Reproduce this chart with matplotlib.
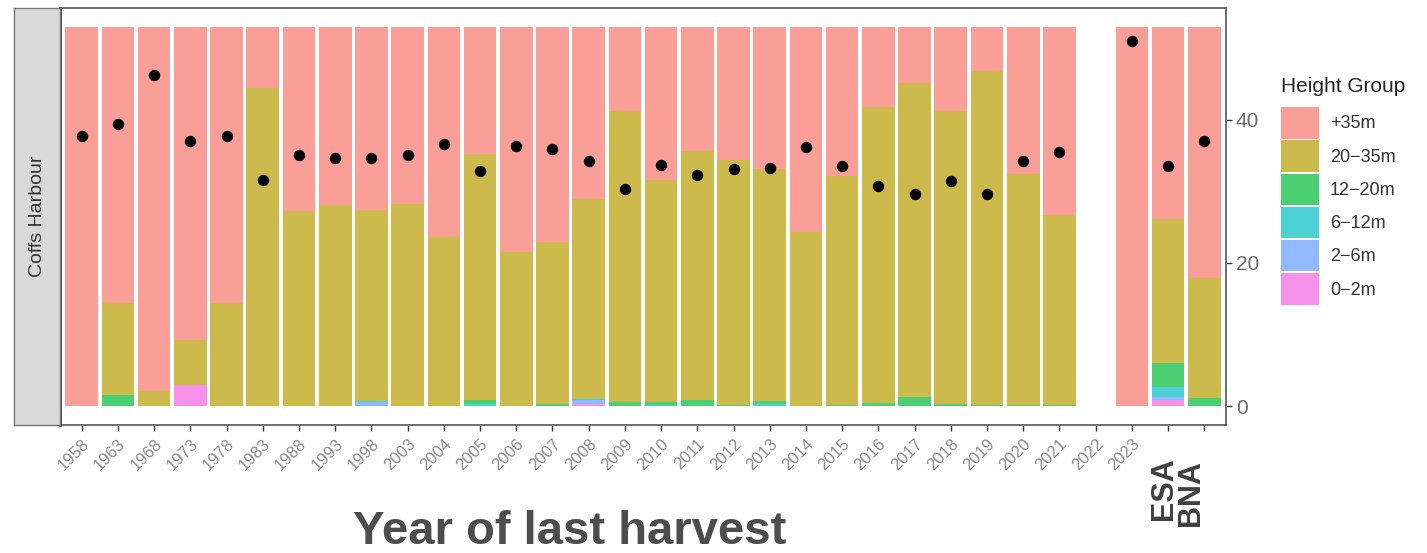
import numpy as np
import matplotlib
matplotlib.use("Agg")
import matplotlib.pyplot as plt
import matplotlib.patches as mpatches

plt.rcParams['font.family'] = ['Liberation Sans', 'DejaVu Sans']

# categories along the x axis
years = ["1958", "1963", "1968", "1973", "1978", "1983", "1988", "1993", "1998", "2003",
         "2004", "2005", "2006", "2007", "2008", "2009", "2010", "2011", "2012", "2013",
         "2014", "2015", "2016", "2017", "2018", "2019", "2020", "2021", "2022", "2023",
         "ESA", "BNA"]

# stacked segment heights per height group (bottom to top)
h_0_2 = [0, 0, 0, 2.9, 0, 0, 0, 0, 0, 0,
         0, 0, 0, 0, 0.3, 0, 0, 0, 0, 0,
         0, 0, 0, 0, 0, 0, 0, 0, 0, 0,
         0.9, 0]
h_2_6 = [0, 0, 0, 0, 0, 0, 0, 0, 0.5, 0,
         0, 0, 0, 0, 0.5, 0, 0, 0, 0, 0,
         0, 0, 0, 0, 0, 0, 0, 0, 0, 0,
         0.3, 0]
h_6_12 = [0, 0, 0, 0, 0, 0, 0, 0, 0.2, 0,
          0, 0.3, 0, 0, 0.2, 0, 0.2, 0, 0, 0.3,
          0, 0, 0, 0, 0, 0, 0, 0, 0, 0,
          1.5, 0]
h_12_20 = [0, 1.6, 0, 0, 0, 0, 0, 0, 0, 0,
           0, 0.6, 0, 0.3, 0, 0.5, 0.3, 0.8, 0.2, 0.4,
           0, 0.2, 0.4, 1.2, 0.3, 0.2, 0.2, 0.1, 0, 0,
           3.3, 1.1]
h_20_35 = [0, 12.8, 2.1, 6.4, 14.4, 44.4, 27.2, 28.1, 26.7, 28.3,
           23.7, 34.4, 21.6, 22.7, 27.9, 40.7, 31.1, 34.8, 34.2, 32.5,
           24.4, 31.9, 41.4, 43.9, 40.9, 46.6, 32.3, 26.6, 0, 0,
           20.2, 16.8]
h_35 = [53, 38.6, 50.9, 43.7, 38.6, 8.6, 25.8, 24.9, 25.6, 24.7,
        29.3, 17.7, 31.4, 30.0, 24.1, 11.8, 21.4, 17.4, 18.6, 19.8,
        28.6, 20.9, 11.2, 7.9, 11.8, 6.2, 20.5, 26.3, 0, 53,
        26.8, 35.1]

# mean height points
mean_height = [37.8, 39.4, 46.3, 37.0, 37.7, 31.6, 35.1, 34.7, 34.7, 35.1,
               36.6, 32.9, 36.4, 36.0, 34.3, 30.3, 33.7, 32.3, 33.2, 33.3,
               36.2, 33.6, 30.8, 29.6, 31.4, 29.7, 34.2, 35.5, np.nan, 51.0,
               33.5, 37.0]

groups = ["0\u22122m", "2\u22126m", "6\u221212m", "12\u221220m", "20\u221235m", "+35m"]
series = [h_0_2, h_2_6, h_6_12, h_12_20, h_20_35, h_35]
colors = ["#F564E3", "#619CFF", "#00BFC4", "#00BA38", "#B79F00", "#F8766D"]

W, H = 1427, 553
fig = plt.figure(figsize=(W / 100, H / 100), dpi=100)
ax = fig.add_axes([60 / W, 1 - 425 / H, 1166 / W, 417 / H])

x = np.arange(len(years))
bottom = np.zeros(len(years))
for vals, col in zip(series, colors):
    vals = np.array(vals, dtype=float)
    ax.bar(x, vals, bottom=bottom, width=0.9, color=col, alpha=0.7, linewidth=0)
    bottom += vals

ax.scatter(x, mean_height, s=52, color="black", zorder=3)

ax.set_xlim(-0.6, len(years) - 0.4)
ax.set_ylim(-2.65, 55.65)

ax.yaxis.tick_right()
ax.set_yticks([0, 20, 40])
ax.tick_params(axis="y", length=4, width=1, color="#333333", labelsize=15,
               labelcolor="#6b6b6b", pad=3)

ax.set_xticks(x)
ax.set_xticklabels(years[:-2] + ["", ""], rotation=45, ha="right",
                   rotation_mode="anchor", fontsize=12, color="#8a8a8a")
ax.tick_params(axis="x", length=4, width=1, color="#333333", pad=4)

for side in ["top", "right", "bottom"]:
    ax.spines[side].set_color("#555555")
    ax.spines[side].set_linewidth(1.2)
ax.spines["left"].set_color("#333333")
ax.spines["left"].set_linewidth(2)

# the two reference bars get big labels
ax.annotate("ESA", xy=(30, 0), xycoords=("data", "axes fraction"),
            xytext=(-4, -32), textcoords="offset pixels", rotation=90,
            ha="center", va="top", fontsize=22, fontweight="bold", color="#404040")
ax.annotate("BNA", xy=(31, 0), xycoords=("data", "axes fraction"),
            xytext=(-13, -35), textcoords="offset pixels", rotation=90,
            ha="center", va="top", fontsize=22, fontweight="bold", color="#404040")

fig.text(570 / W, 1 - 544 / H, "Year of last harvest", ha="center", va="baseline",
         fontsize=34, fontweight="bold", color="#4d4d4d")

# facet strip on the left
strip = fig.add_axes([14 / W, 1 - 425 / H, 46 / W, 417 / H])
strip.set_facecolor("#d9d9d9")
strip.set_xticks([])
strip.set_yticks([])
for s in strip.spines.values():
    s.set_color("#777777")
    s.set_linewidth(1)
strip.text(0.5, 0.5, "Coffs Harbour", rotation=90, ha="center", va="center",
           fontsize=14, color="#333333", transform=strip.transAxes)

handles = [mpatches.Patch(facecolor=c, alpha=0.7, edgecolor="none", label=g)
           for g, c in zip(groups[::-1], colors[::-1])]
leg = fig.legend(handles=handles, title="Height Group", loc="upper left",
                 bbox_to_anchor=(1272 / W, 1 - 68 / H), frameon=False,
                 fontsize=13, title_fontsize=15, handlelength=2.1, handleheight=2.3,
                 labelspacing=0.1, handletextpad=0.6, borderpad=0)
leg._legend_box.align = "left"
leg._legend_box.sep = 8
for t in leg.get_texts():
    t.set_color("#333333")
leg.get_title().set_color("#222222")

fig.savefig("out.png", dpi=100)
